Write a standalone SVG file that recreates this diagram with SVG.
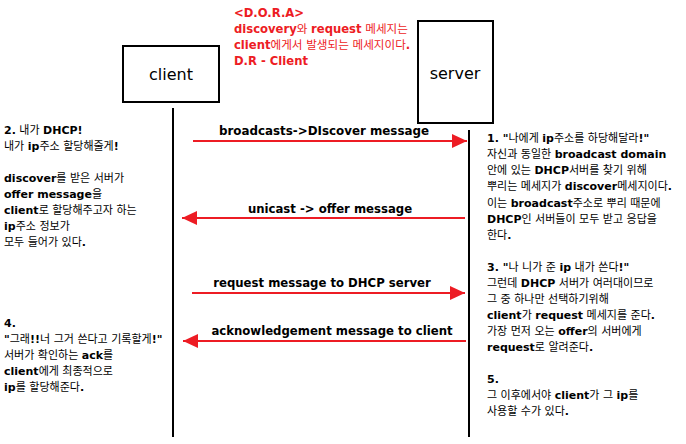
<svg xmlns="http://www.w3.org/2000/svg" width="686" height="444" viewBox="0 0 686 444">
<style>
text{font-family:"DejaVu Sans","Noto Sans CJK KR",sans-serif;font-size:11px;fill:#000}
.b{font-weight:bold}
.red{fill:#ED1C24;font-size:11.6px}
.lbl{font-weight:bold;font-size:11.7px}
.title{font-size:16px}
.box{fill:#fff;stroke:#000;stroke-width:2}
.life{stroke:#000;stroke-width:2}
.msg{stroke:#ED1C24;stroke-width:2;fill:none}
</style>
<defs>
<marker id="ah" markerWidth="16" markerHeight="14" refX="15" refY="7" orient="auto" markerUnits="userSpaceOnUse"><path d="M0,0 L15,7 L0,14 z" fill="#ED1C24"/></marker>
</defs>
<g id="note-dora">
<text class="red" x="234" y="17"><tspan class="b">&lt;D.O.R.A&gt;</tspan></text>
<text class="red" x="234" y="33"><tspan class="b">discovery</tspan>와 <tspan class="b">request</tspan> 메세지는</text>
<text class="red" x="234" y="49"><tspan class="b">client</tspan>에게서 발생되는 메세지이다<tspan class="b">.</tspan></text>
<text class="red" x="234" y="65"><tspan class="b">D.R - Client</tspan></text>
</g>
<g id="client">
<rect class="box" x="123" y="46" width="96" height="56"/>
<text class="title" x="171" y="80" text-anchor="middle">client</text>
<line class="life" x1="173" y1="108" x2="173" y2="437"/>
</g>
<g id="server">
<rect class="box" x="418" y="21" width="75" height="102"/>
<text class="title" x="455" y="79" text-anchor="middle">server</text>
<line class="life" x1="469" y1="130" x2="469" y2="437"/>
</g>
<g id="connectors">
<line class="msg" x1="193" y1="141" x2="467" y2="141" marker-end="url(#ah)"/>
<text class="lbl" x="324" y="135" text-anchor="middle" textLength="210" lengthAdjust="spacingAndGlyphs">broadcasts-&gt;DIscover message</text>
<line class="msg" x1="465" y1="218" x2="182" y2="218" marker-end="url(#ah)"/>
<text class="lbl" x="330" y="213" text-anchor="middle">unicast -&gt; offer message</text>
<line class="msg" x1="192" y1="293" x2="465" y2="293" marker-end="url(#ah)"/>
<text class="lbl" x="322" y="287" text-anchor="middle">request message to DHCP server</text>
<line class="msg" x1="466" y1="341" x2="183" y2="341" marker-end="url(#ah)"/>
<text class="lbl" x="332" y="335" text-anchor="middle">acknowledgement message to client</text>
</g>
<g id="note-2">
<text x="4" y="134"><tspan class="b">2.</tspan> 내가 <tspan class="b">DHCP!</tspan></text>
<text x="4" y="150">내가 <tspan class="b">ip</tspan>주소 할당해줄게<tspan class="b">!</tspan></text>
<text x="4" y="182"><tspan class="b">discover</tspan>를 받은 서버가</text>
<text x="4" y="198"><tspan class="b">offer message</tspan>을</text>
<text x="4" y="214"><tspan class="b">client</tspan>로 할당해주고자 하는</text>
<text x="4" y="230"><tspan class="b">ip</tspan>주소 정보가</text>
<text x="4" y="246">모두 들어가 있다<tspan class="b">.</tspan></text>
</g>
<g id="note-4">
<text x="4" y="327"><tspan class="b">4.</tspan></text>
<text x="4" y="343"><tspan class="b">"</tspan>그래<tspan class="b">!!</tspan>너 그거 쓴다고 기록할게<tspan class="b">!"</tspan></text>
<text x="4" y="359">서버가 확인하는 <tspan class="b">ack</tspan>를</text>
<text x="4" y="375"><tspan class="b">client</tspan>에게 최종적으로</text>
<text x="4" y="391"><tspan class="b">ip</tspan>를 할당해준다<tspan class="b">.</tspan></text>
</g>
<g id="note-1">
<text x="487" y="142"><tspan class="b">1. "</tspan>나에게 <tspan class="b">ip</tspan>주소를 하당해달라<tspan class="b">!"</tspan></text>
<text x="487" y="158">자신과 동일한 <tspan class="b">broadcast domain</tspan></text>
<text x="487" y="174">안에 있는 <tspan class="b">DHCP</tspan>서버를 찾기 위해</text>
<text x="487" y="190">뿌리는 메세지가 <tspan class="b">discover</tspan>메세지이다<tspan class="b">.</tspan></text>
<text x="487" y="207">이는 <tspan class="b">broadcast</tspan>주소로 뿌리 때문에</text>
<text x="487" y="223"><tspan class="b">DHCP</tspan>인 서버들이 모두 받고 응답을</text>
<text x="487" y="239">한다<tspan class="b">.</tspan></text>
</g>
<g id="note-3">
<text x="487" y="271"><tspan class="b">3. "</tspan>나 니가 준 <tspan class="b">ip</tspan> 내가 쓴다<tspan class="b">!"</tspan></text>
<text x="487" y="287">그런데 <tspan class="b">DHCP</tspan> 서버가 여러대이므로</text>
<text x="487" y="303">그 중 하나만 선택하기위해</text>
<text x="487" y="319"><tspan class="b">client</tspan>가 <tspan class="b">request</tspan> 메세지를 준다<tspan class="b">.</tspan></text>
<text x="487" y="335">가장 먼저 오는 <tspan class="b">offer</tspan>의 서버에게</text>
<text x="487" y="351"><tspan class="b">request</tspan>로 알려준다<tspan class="b">.</tspan></text>
</g>
<g id="note-5">
<text x="487" y="383"><tspan class="b">5.</tspan></text>
<text x="487" y="399">그 이후에서야 <tspan class="b">client</tspan>가 그 <tspan class="b">ip</tspan>를</text>
<text x="487" y="415">사용할 수가 있다<tspan class="b">.</tspan></text>
</g>
</svg>
